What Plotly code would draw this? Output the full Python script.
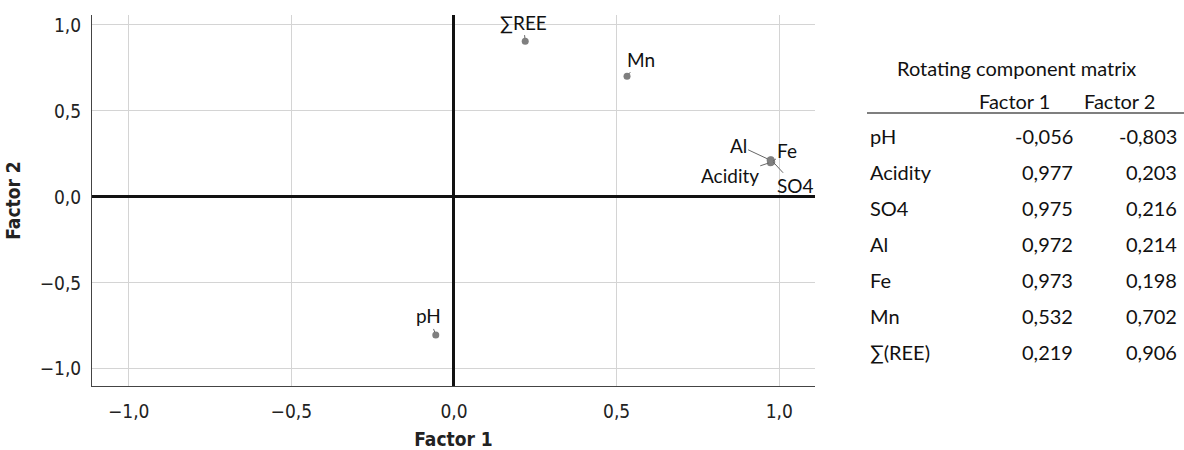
import plotly.graph_objects as go

# ---- data ----
variables = ["pH", "Acidity", "SO4", "Al", "Fe", "Mn", "∑REE"]
table_names = ["pH", "Acidity", "SO4", "Al", "Fe", "Mn", "∑(REE)"]
factor1 = [-0.056, 0.977, 0.975, 0.972, 0.973, 0.532, 0.219]
factor2 = [-0.803, 0.203, 0.216, 0.214, 0.198, 0.702, 0.906]
tick_vals = [-1.0, -0.5, 0.0, 0.5, 1.0]
tick_text = ["−1,0", "−0,5", "0,0", "0,5", "1,0"]
table_title = "Rotating component matrix"
table_header = ["Factor 1", "Factor 2"]

def fmt(v):
    return f"{v:.3f}".replace(".", ",")

# ---- layout geometry (pixels) ----
W, H = 1184, 450
ML, MR, MT, MB = 92, 369, 15, 64
PW = W - ML - MR
PH = H - MT - MB

def px(x):
    return (x - ML) / PW

def py(y):
    return (H - MB - y) / PH

cond = "Liberation Sans Narrow, DejaVu Sans Condensed, sans-serif"
tick_font = dict(family=cond, size=19, color="#222")
label_font = dict(family="Lato, Open Sans, sans-serif", size=19, color="#111")
table_font = dict(family="Lato, Open Sans, sans-serif", size=20, color="#111")

fig = go.Figure()
fig.add_trace(go.Scatter(
    x=factor1, y=factor2, mode="markers",
    marker=dict(size=7, color="#7f7f7f"),
    hoverinfo="text", text=variables, showlegend=False,
))

# label offsets (ax, ay) in pixels relative to each point
offsets = {
    "pH": (-7, -19),
    "Acidity": (-42, 14),
    "SO4": (24, 26),
    "Al": (-32, -15),
    "Fe": (17, -12),
    "Mn": (14, -17),
    "∑REE": (-2, -19),
}
for name, xv, yv in zip(variables, factor1, factor2):
    ax, ay = offsets[name]
    fig.add_annotation(
        x=xv, y=yv, xref="x", yref="y", text=name, showarrow=True,
        arrowhead=0, arrowwidth=1, arrowcolor="#666", ax=ax, ay=ay,
        standoff=3, font=label_font,
    )

# table
fig.add_annotation(x=px(1017), y=py(68), xref="paper", yref="paper", text=table_title,
                   showarrow=False, font=table_font, xanchor="center", yanchor="middle")
fig.add_annotation(x=px(1015), y=py(101), xref="paper", yref="paper", text=table_header[0],
                   showarrow=False, font=table_font, xanchor="center", yanchor="middle")
fig.add_annotation(x=px(1119), y=py(101), xref="paper", yref="paper", text=table_header[1],
                   showarrow=False, font=table_font, xanchor="center", yanchor="middle")
fig.add_shape(type="line", xref="paper", yref="paper", x0=px(867), x1=px(1184),
              y0=py(113), y1=py(113), line=dict(color="#555", width=1.5))
for i, (nm, a, b) in enumerate(zip(table_names, factor1, factor2)):
    yy = py(136 + 36 * i)
    fig.add_annotation(x=px(868), y=yy, xref="paper", yref="paper", text=nm,
                       showarrow=False, font=table_font, xanchor="left", yanchor="middle")
    fig.add_annotation(x=px(1075), y=yy, xref="paper", yref="paper", text=fmt(a),
                       showarrow=False, font=table_font, xanchor="right", yanchor="middle")
    fig.add_annotation(x=px(1179), y=yy, xref="paper", yref="paper", text=fmt(b),
                       showarrow=False, font=table_font, xanchor="right", yanchor="middle")

fig.update_layout(
    width=W, height=H,
    margin=dict(l=ML, r=MR, t=MT, b=MB, autoexpand=False),
    plot_bgcolor="white", paper_bgcolor="white",
    xaxis=dict(
        range=[-1.113, 1.11], tickvals=tick_vals, ticktext=tick_text,
        showgrid=True, gridcolor="#d4d4d4", gridwidth=1,
        zeroline=True, zerolinecolor="#111", zerolinewidth=3,
        showline=True, linecolor="#444", linewidth=1, mirror=False,
        ticks="", tickfont=tick_font, ticklabelstandoff=8,
        title=dict(text="<b>Factor 1</b>", font=dict(family=cond, size=19, color="#222"), standoff=12),
        fixedrange=True,
    ),
    yaxis=dict(
        range=[-1.1, 1.058], tickvals=tick_vals, ticktext=tick_text,
        showgrid=True, gridcolor="#d4d4d4", gridwidth=1,
        zeroline=True, zerolinecolor="#111", zerolinewidth=3,
        showline=True, linecolor="#444", linewidth=1, mirror=False,
        ticks="", tickfont=tick_font, ticklabelstandoff=6,
        title=dict(text="<b>Factor 2</b>", font=dict(family=cond, size=19, color="#222"), standoff=14),
        fixedrange=True,
    ),
)

fig.write_html("out.html", config={"displayModeBar": False})

# remove default page margin so the figure sits at the window's top-left corner
with open("out.html", encoding="utf-8") as f:
    html = f.read()
html = html.replace("<head>", "<head><style>html,body{margin:0;padding:0;overflow:hidden;}</style>", 1)
with open("out.html", "w", encoding="utf-8") as f:
    f.write(html)
